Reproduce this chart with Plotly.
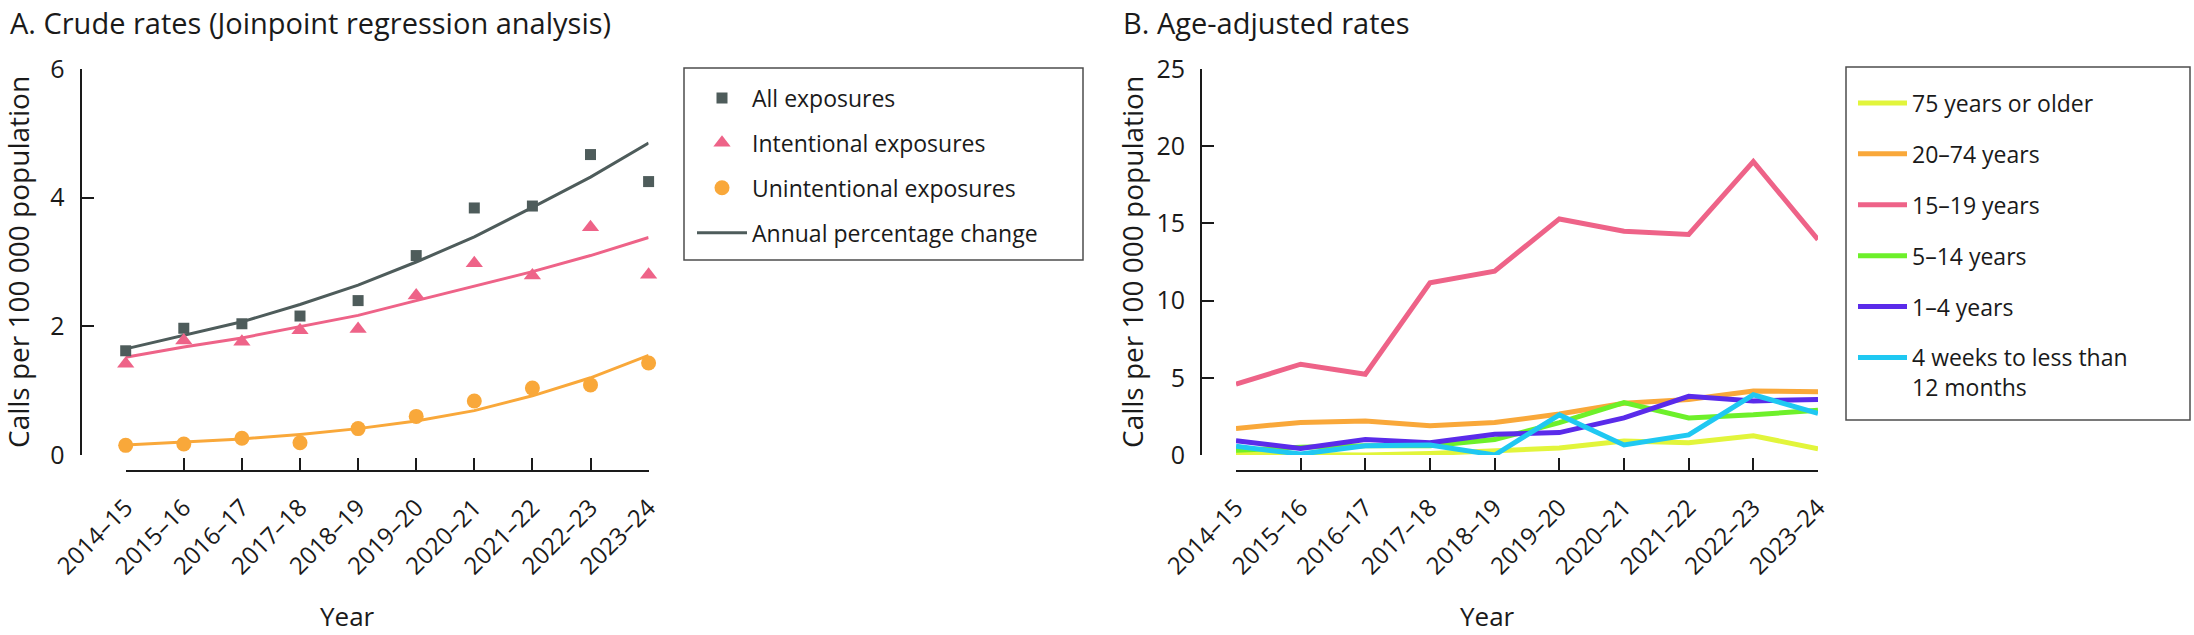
import plotly.graph_objects as go

# ---------------- data ----------------
years = ["2014–15", "2015–16", "2016–17", "2017–18", "2018–19",
         "2019–20", "2020–21", "2021–22", "2022–23", "2023–24"]

# Panel A: crude rates (observed) and Joinpoint fitted values
all_exposures = [1.62, 1.97, 2.04, 2.16, 2.40, 3.10, 3.84, 3.87, 4.67, 4.25]
intentional = [1.42, 1.78, 1.76, 1.94, 1.96, 2.48, 2.98, 2.79, 3.54, 2.80]
unintentional = [0.15, 0.17, 0.26, 0.19, 0.41, 0.60, 0.84, 1.04, 1.09, 1.43]
apc_all = [1.65, 1.86, 2.07, 2.34, 2.64, 3.00, 3.39, 3.85, 4.32, 4.85]
apc_intentional = [1.52, 1.68, 1.82, 1.99, 2.17, 2.40, 2.62, 2.85, 3.10, 3.38]
apc_unintentional = [0.155, 0.20, 0.25, 0.32, 0.41, 0.53, 0.69, 0.92, 1.20, 1.55]

# Panel B: age-adjusted rates
age_75_plus = [0.05, 0.05, 0.0, 0.1, 0.3, 0.45, 0.9, 0.8, 1.25, 0.4]
age_20_74 = [1.72, 2.11, 2.2, 1.9, 2.1, 2.65, 3.35, 3.6, 4.15, 4.1]
age_15_19 = [4.59, 5.88, 5.23, 11.15, 11.91, 15.29, 14.49, 14.28, 19.0, 13.95]
age_5_14 = [0.3, 0.5, 0.6, 0.6, 1.0, 2.1, 3.4, 2.4, 2.6, 2.9]
age_1_4 = [0.92, 0.43, 1.0, 0.8, 1.35, 1.45, 2.4, 3.8, 3.5, 3.6]
age_4wk_12mo = [0.56, 0.06, 0.6, 0.65, 0.0, 2.6, 0.65, 1.3, 3.9, 2.7]

labels_a = ["All exposures", "Intentional exposures", "Unintentional exposures",
            "Annual percentage change"]
labels_b = ["75 years or older", "20–74 years", "15–19 years", "5–14 years",
            "1–4 years", "4 weeks to less than<br>12 months"]

yticks_a = [0, 2, 4, 6]
yticks_b = [0, 5, 10, 15, 20, 25]

# ---------------- style ----------------
W, H = 2194, 635
FONT = "Open Sans"
TXT = "#1a1a1a"
AX = "#1a1a1a"
GRAY = "#4e5c5b"
PINK = "#ee6388"
ORANGE = "#f9a83a"
YELLOW = "#e2f53b"
GREEN = "#6df02a"
PURPLE = "#5a2bea"
CYAN = "#1fc8f2"


def px(x):
    return x / W


def py(y):
    return 1 - y / H


fig = go.Figure()

# ---- Panel A: fitted lines (drawn first, under markers)
for vals, col, show, rank in [(apc_unintentional, ORANGE, False, 99),
                              (apc_intentional, PINK, False, 98),
                              (apc_all, GRAY, True, 4)]:
    fig.add_trace(go.Scatter(
        x=years, y=vals, mode="lines", line=dict(color=col, width=3),
        name=labels_a[3], showlegend=show, legend="legend",
        legendgroup="apc%d" % rank, legendrank=rank,
        xaxis="x", yaxis="y", cliponaxis=False, hoverinfo="skip"))

for vals, col, sym, size, name, rank in [
        (all_exposures, GRAY, "square", 11, labels_a[0], 1),
        (intentional, PINK, "triangle-up", 15, labels_a[1], 2),
        (unintentional, ORANGE, "circle", 15, labels_a[2], 3)]:
    fig.add_trace(go.Scatter(
        x=years, y=vals, mode="markers",
        marker=dict(color=col, symbol=sym, size=size, line=dict(width=0)),
        name=name, legend="legend", legendgroup=name, legendrank=rank,
        xaxis="x", yaxis="y", cliponaxis=False))

# ---- Panel B: age groups
for vals, col, name in zip(
        [age_75_plus, age_20_74, age_15_19, age_5_14, age_1_4, age_4wk_12mo],
        [YELLOW, ORANGE, PINK, GREEN, PURPLE, CYAN], labels_b):
    fig.add_trace(go.Scatter(
        x=years, y=vals, mode="lines", line=dict(color=col, width=5),
        name=name, legend="legend2", legendgroup=name,
        xaxis="x2", yaxis="y2", cliponaxis=False))

ydom = [py(455), py(69)]
tickfont = dict(family=FONT, size=24, color=TXT)

common_x = dict(type="category", range=[0, 9], anchor="free", showline=True,
                linecolor=AX, linewidth=2, ticks="inside", ticklen=12,
                tickwidth=2, tickcolor=AX, tickangle=-45, tickfont=tickfont,
                showgrid=False, zeroline=False, ticklabelstandoff=12,
                automargin=False, fixedrange=True)
common_y = dict(anchor="free", showline=True, linecolor=AX, linewidth=2,
                ticks="inside", ticklen=12, tickwidth=2, tickcolor=AX,
                tickfont=dict(family=FONT, size=25, color=TXT),
                showgrid=False, zeroline=False, ticklabelstandoff=10,
                automargin=False, fixedrange=True, domain=ydom)

legend_common = dict(xanchor="left", yanchor="top", bgcolor="rgba(0,0,0,0)",
                     borderwidth=0, font=dict(family=FONT, size=23, color=TXT),
                     traceorder="grouped", valign="top", itemclick=False,
                     itemdoubleclick=False)

fig.update_layout(
    width=W, height=H, margin=dict(l=0, r=0, t=0, b=0),
    paper_bgcolor="white", plot_bgcolor="white",
    font=dict(family=FONT, color=TXT),
    showlegend=True,
    xaxis=dict(common_x, domain=[px(125.7), px(648.6)], position=py(471)),
    yaxis=dict(common_y, range=[0, 6], tickvals=yticks_a, position=px(80.5)),
    xaxis2=dict(common_x, domain=[px(1236), px(1818)], position=py(471)),
    yaxis2=dict(common_y, range=[0, 25], tickvals=yticks_b, position=px(1201)),
    legend=dict(legend_common, x=px(692), y=py(76.5), itemwidth=50,
                tracegroupgap=12),
    legend2=dict(legend_common, x=px(1853), y=py(81.5), itemwidth=49,
                 tracegroupgap=18),
    shapes=[
        dict(type="rect", xref="paper", yref="paper", x0=px(684), x1=px(1083),
             y0=py(260), y1=py(68), line=dict(color="#4d4d4d", width=1.5)),
        dict(type="rect", xref="paper", yref="paper", x0=px(1846), x1=px(2190),
             y0=py(420), y1=py(67), line=dict(color="#4d4d4d", width=1.5)),
    ],
    annotations=[
        dict(text="A. Crude rates (Joinpoint regression analysis)", x=px(8),
             y=py(22), xref="paper", yref="paper", xanchor="left",
             yanchor="middle", showarrow=False,
             font=dict(family=FONT, size=29, color=TXT)),
        dict(text="B. Age-adjusted rates", x=px(1121), y=py(22), xref="paper",
             yref="paper", xanchor="left", yanchor="middle", showarrow=False,
             font=dict(family=FONT, size=29, color=TXT)),
        dict(text="Calls per 100 000 population", x=px(18), y=py(262),
             xref="paper", yref="paper", xanchor="center", yanchor="middle",
             textangle=-90, showarrow=False,
             font=dict(family=FONT, size=28, color=TXT)),
        dict(text="Calls per 100 000 population", x=px(1132), y=py(262),
             xref="paper", yref="paper", xanchor="center", yanchor="middle",
             textangle=-90, showarrow=False,
             font=dict(family=FONT, size=28, color=TXT)),
        dict(text="Year", x=px(347), y=py(616), xref="paper", yref="paper",
             xanchor="center", yanchor="middle", showarrow=False,
             font=dict(family=FONT, size=26, color=TXT)),
        dict(text="Year", x=px(1487), y=py(616), xref="paper", yref="paper",
             xanchor="center", yanchor="middle", showarrow=False,
             font=dict(family=FONT, size=26, color=TXT)),
    ],
)

fig.write_html("out.html", config={"displayModeBar": False},
               post_script="document.body.style.margin='0';")
